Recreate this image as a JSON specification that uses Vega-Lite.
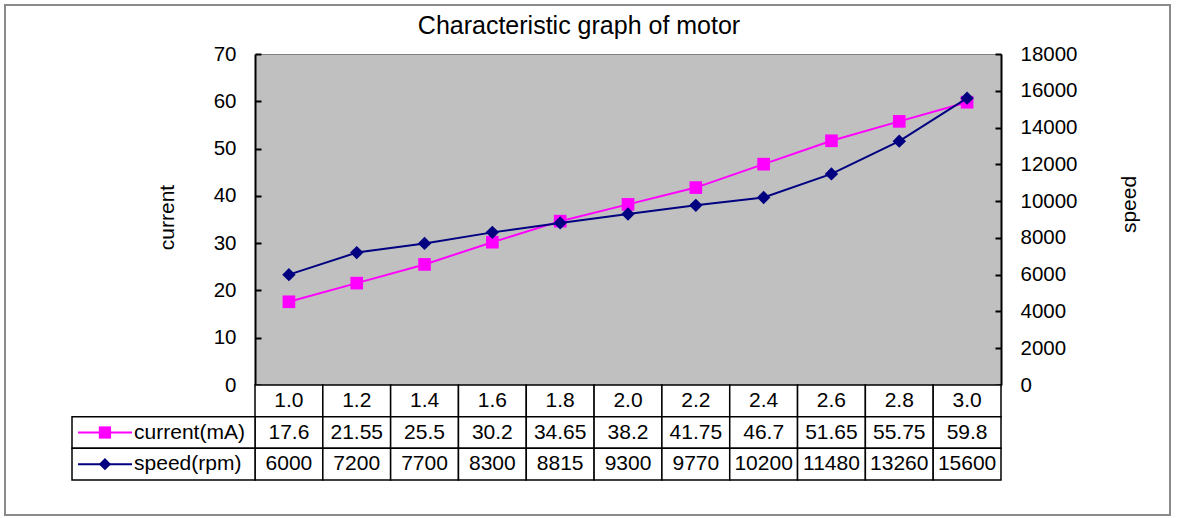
{
  "$schema": "https://vega.github.io/schema/vega-lite/v6.json",
  "width": 746,
  "height": 331,
  "autosize": "none",
  "padding": {"left": 255, "top": 54, "right": 178, "bottom": 133},
  "background": "white",
  "config": {
    "view": {"fill": "#C0C0C0", "stroke": "#808080", "strokeWidth": 1},
    "axis": {
      "grid": false,
      "domainColor": "#000000",
      "domainWidth": 2,
      "tickColor": "#000000",
      "tickWidth": 2,
      "tickSize": -6,
      "labelFont": "Liberation Sans",
      "labelFontSize": 20.5,
      "labelColor": "#000000",
      "labelPadding": 25,
      "titleFont": "Liberation Sans",
      "titleFontSize": 21,
      "titleFontWeight": "normal",
      "titleColor": "#000000"
    },
    "text": {"font": "Liberation Sans", "color": "#000000"}
  },
  "data": {
    "values": [
      {"x": "1.0", "current": 17.6, "speed": 6000},
      {"x": "1.2", "current": 21.55, "speed": 7200},
      {"x": "1.4", "current": 25.5, "speed": 7700},
      {"x": "1.6", "current": 30.2, "speed": 8300},
      {"x": "1.8", "current": 34.65, "speed": 8815},
      {"x": "2.0", "current": 38.2, "speed": 9300},
      {"x": "2.2", "current": 41.75, "speed": 9770},
      {"x": "2.4", "current": 46.7, "speed": 10200},
      {"x": "2.6", "current": 51.65, "speed": 11480},
      {"x": "2.8", "current": 55.75, "speed": 13260},
      {"x": "3.0", "current": 59.8, "speed": 15600}
    ]
  },
  "layer": [
    {
      "data": {"values": [{}]},
      "mark": {"type": "rect", "fillOpacity": 0, "stroke": "#8a8a8a", "strokeWidth": 2},
      "encoding": {
        "x": {
          "datum": 0, "type": "quantitative",
          "scale": {"domain": [0, 1], "range": [-250, 915]},
          "axis": {
            "orient": "top",
            "labels": false,
            "ticks": false,
            "domain": false,
            "title": "Characteristic graph of motor",
            "titleFontSize": 25,
            "titleX": 323.5,
            "titleY": -21,
            "titleAlign": "center",
            "titleBaseline": "alphabetic",
            "titleAngle": 0
          }
        },
        "x2": {"datum": 1},
        "y": {"datum": 0, "type": "quantitative", "scale": {"domain": [0, 1], "range": [-49, 461]}, "axis": null},
        "y2": {"datum": 1}
      }
    },
    {
      "mark": {"type": "line", "color": "#FF00FF", "strokeWidth": 2, "point": {"shape": "square", "size": 160, "filled": true, "color": "#FF00FF", "opacity": 1}},
      "encoding": {
        "x": {"field": "x", "type": "ordinal", "sort": null, "scale": {"type": "point", "padding": 0.5}, "axis": null},
        "y": {
          "field": "current", "type": "quantitative",
          "scale": {"domain": [0, 70], "nice": false, "zero": true},
          "axis": {
            "orient": "left",
            "values": [0, 10, 20, 30, 40, 50, 60, 70],
            "title": "current",
            "titleAngle": -90,
            "titleX": -88,
            "titleY": 163,
            "titleAlign": "center",
            "titleBaseline": "middle"
          }
        }
      }
    },
    {
      "mark": {"type": "line", "color": "#000080", "strokeWidth": 2, "point": {"shape": "diamond", "size": 180, "filled": true, "color": "#000080", "opacity": 1}},
      "encoding": {
        "x": {"field": "x", "type": "ordinal", "sort": null, "scale": {"type": "point", "padding": 0.5}, "axis": null},
        "y": {
          "field": "speed", "type": "quantitative",
          "scale": {"domain": [0, 18000], "nice": false, "zero": true},
          "axis": {
            "orient": "right",
            "values": [0, 2000, 4000, 6000, 8000, 10000, 12000, 14000, 16000, 18000],
            "format": "d",
            "title": "speed",
            "titleAngle": -90,
            "titleX": 128,
            "titleY": 150,
            "titleAlign": "center",
            "titleBaseline": "middle"
          }
        }
      }
    },
    {
      "transform": [{"fold": ["x", "current", "speed"], "as": ["row", "cell"]}],
      "mark": {"type": "rect", "fill": "#FFFFFF", "stroke": "#000000", "strokeWidth": 1.5},
      "encoding": {
        "x": {"field": "x", "type": "ordinal", "sort": null, "scale": {"type": "band", "paddingInner": 0, "paddingOuter": 0}, "axis": null},
        "y": {"field": "row", "type": "nominal", "scale": {"type": "band", "domain": ["x", "current", "speed"], "range": [331, 426], "paddingInner": 0, "paddingOuter": 0}, "axis": null}
      }
    },
    {
      "transform": [{"fold": ["x", "current", "speed"], "as": ["row", "cell"]}],
      "mark": {"type": "text", "align": "center", "baseline": "middle", "fontSize": 21},
      "encoding": {
        "x": {"field": "x", "type": "ordinal", "sort": null, "scale": {"type": "band", "paddingInner": 0, "paddingOuter": 0}, "axis": null},
        "y": {"field": "row", "type": "nominal", "scale": {"type": "band", "domain": ["x", "current", "speed"], "range": [331, 426], "paddingInner": 0, "paddingOuter": 0}, "axis": null},
        "text": {"field": "cell", "type": "nominal"}
      }
    },
    {
      "data": {"values": [{"row": "current", "label": "current(mA)"}, {"row": "speed", "label": "speed(rpm)"}]},
      "layer": [
        {
          "mark": {"type": "rect", "fill": "#FFFFFF", "stroke": "#000000", "strokeWidth": 1.5},
          "encoding": {
            "x": {"datum": 0, "type": "quantitative", "scale": {"domain": [0, 1], "range": [-183, 0]}, "axis": null},
            "x2": {"datum": 1},
            "y": {"field": "row", "type": "nominal", "scale": {"type": "band", "domain": ["x", "current", "speed"], "range": [331, 426], "paddingInner": 0, "paddingOuter": 0}, "axis": null}
          }
        },
        {
          "mark": {"type": "rule", "strokeWidth": 2},
          "encoding": {
            "x": {"datum": 0.033, "type": "quantitative", "scale": {"domain": [0, 1], "range": [-183, 0]}, "axis": null},
            "x2": {"datum": 0.328},
            "y": {"field": "row", "type": "nominal", "scale": {"type": "band", "domain": ["x", "current", "speed"], "range": [331, 426], "paddingInner": 0, "paddingOuter": 0}, "axis": null},
            "color": {"field": "row", "type": "nominal", "scale": {"domain": ["current", "speed"], "range": ["#FF00FF", "#000080"]}, "legend": null}
          }
        },
        {
          "mark": {"type": "point", "filled": true, "opacity": 1, "size": 150},
          "encoding": {
            "x": {"datum": 0.18, "type": "quantitative", "scale": {"domain": [0, 1], "range": [-183, 0]}, "axis": null},
            "y": {"field": "row", "type": "nominal", "scale": {"type": "band", "domain": ["x", "current", "speed"], "range": [331, 426], "paddingInner": 0, "paddingOuter": 0}, "axis": null},
            "color": {"field": "row", "type": "nominal", "scale": {"domain": ["current", "speed"], "range": ["#FF00FF", "#000080"]}, "legend": null},
            "shape": {"field": "row", "type": "nominal", "scale": {"domain": ["current", "speed"], "range": ["square", "diamond"]}, "legend": null}
          }
        },
        {
          "mark": {"type": "text", "align": "left", "baseline": "middle", "fontSize": 21},
          "encoding": {
            "x": {"datum": 0.339, "type": "quantitative", "scale": {"domain": [0, 1], "range": [-183, 0]}, "axis": null},
            "y": {"field": "row", "type": "nominal", "scale": {"type": "band", "domain": ["x", "current", "speed"], "range": [331, 426], "paddingInner": 0, "paddingOuter": 0}, "axis": null},
            "text": {"field": "label", "type": "nominal"}
          }
        }
      ],
      "resolve": {"scale": {"x": "independent", "y": "independent"}}
    }
  ],
  "resolve": {"scale": {"x": "independent", "y": "independent", "color": "independent", "shape": "independent"}}
}
